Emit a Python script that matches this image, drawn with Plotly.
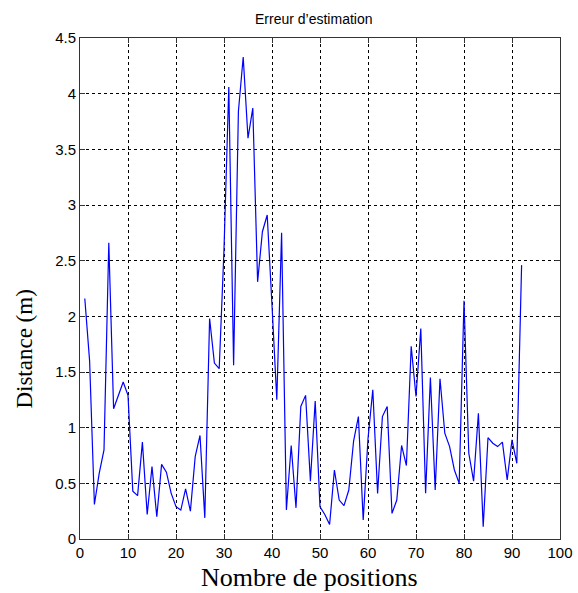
import plotly.graph_objects as go

# Estimation error (m) for each successive position
positions = list(range(1, 93))
distance_m = [
    2.16, 1.60, 0.31, 0.59, 0.80, 2.66, 1.17, 1.29, 1.41, 1.29,
    0.43, 0.39, 0.87, 0.22, 0.65, 0.20, 0.67, 0.60, 0.41, 0.29,
    0.26, 0.45, 0.25, 0.74, 0.93, 0.19, 1.98, 1.58, 1.53, 2.60,
    4.06, 1.56, 3.84, 4.33, 3.60, 3.87, 2.31, 2.76, 2.91, 2.10,
    1.25, 2.75, 0.26, 0.84, 0.28, 1.19, 1.29, 0.52, 1.24, 0.29,
    0.22, 0.13, 0.62, 0.35, 0.30, 0.44, 0.88, 1.10, 0.17, 0.90,
    1.34, 0.41, 1.10, 1.19, 0.23, 0.35, 0.84, 0.66, 1.73, 1.28,
    1.89, 0.41, 1.45, 0.44, 1.44, 0.95, 0.83, 0.62, 0.50, 2.14,
    0.77, 0.52, 1.13, 0.11, 0.91, 0.86, 0.83, 0.87, 0.53, 0.89,
    0.68, 2.46,
]

x_ticks = [0, 10, 20, 30, 40, 50, 60, 70, 80, 90, 100]
y_ticks = [0, 0.5, 1, 1.5, 2, 2.5, 3, 3.5, 4, 4.5]

sans = "Liberation Sans, Arial, sans-serif"
serif = "Liberation Serif, Times New Roman, serif"
tick_font = dict(family=sans, size=15, color="#000000")

fig = go.Figure()
fig.add_trace(go.Scatter(
    x=positions, y=distance_m, mode="lines",
    line=dict(color="#0000ff", width=1.2),
    showlegend=False,
))

axis_common = dict(
    showline=True, linecolor="#333333", linewidth=1, mirror="allticks",
    ticks="inside", ticklen=5, tickcolor="#333333",
    showgrid=True, gridcolor="#000000", gridwidth=1, griddash="3px,3px",
    zeroline=False, tickfont=tick_font, automargin=False,
)

fig.update_xaxes(range=[0, 100], tickvals=x_ticks, ticktext=[str(v) for v in x_ticks], **axis_common)
fig.update_yaxes(range=[0, 4.5], tickvals=y_ticks, ticktext=[f"{v:g}" for v in y_ticks], **axis_common)

fig.update_layout(
    width=578, height=593,
    margin=dict(l=80, r=18, t=38, b=54, autoexpand=False),
    paper_bgcolor="#ffffff", plot_bgcolor="#ffffff",
    annotations=[
        dict(text="Erreur d’estimation", x=0.5, y=1, xref="paper", yref="paper",
             xanchor="center", yanchor="middle", yshift=19, xshift=-6, showarrow=False,
             font=dict(family=sans, size=14, color="#000000")),
        dict(text="Nombre de positions", x=0.5, y=0, xref="paper", yref="paper",
             xanchor="center", yanchor="middle", yshift=-38, xshift=-11, showarrow=False,
             font=dict(family=serif, size=26, color="#000000")),
        dict(text="Distance (m)", x=0, y=0.378, xref="paper", yref="paper",
             xanchor="center", yanchor="middle", xshift=-55, textangle=-90,
             showarrow=False, font=dict(family=serif, size=23, color="#000000")),
    ],
)

fig.write_html("out.html")
